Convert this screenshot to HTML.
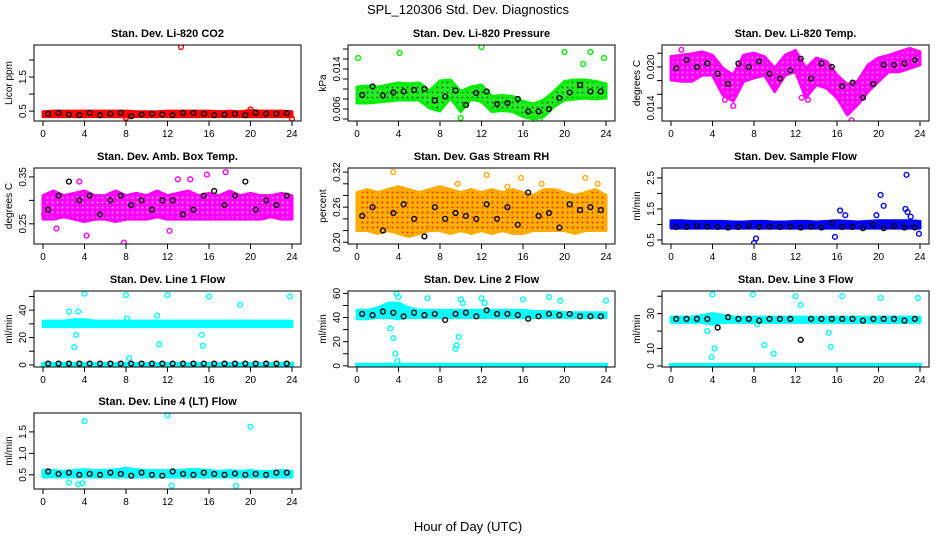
<!DOCTYPE html>
<html><head><meta charset="utf-8"><style>
body{margin:0;background:#fff}
svg{display:block;font-family:"Liberation Sans",sans-serif}
</style></head><body>
<svg id="c" width="936" height="540" viewBox="0 0 936 540">
<text x="468" y="14" text-anchor="middle" font-size="13">SPL_120306  Std. Dev. Diagnostics</text>
<text x="468" y="531" text-anchor="middle" font-size="13">Hour of Day (UTC)</text>
</svg>
<script>
const hours=[0,1,2,3,4,5,6,7,8,9,10,11,12,13,14,15,16,17,18,19,20,21,22,23,24];
const blackHours=[0.5,1.5,2.5,3.5,4.5,5.5,6.5,7.5,8.5,9.5,10.5,11.5,12.5,13.5,14.5,15.5,16.5,17.5,18.5,19.5,20.5,21.5,22.5,23.5];
// CO2
const co2Lo=[0.34,0.34,0.34,0.34,0.34,0.34,0.34,0.34,0.33,0.34,0.34,0.34,0.34,0.34,0.34,0.34,0.34,0.34,0.34,0.34,0.34,0.34,0.34,0.34,0.34];
const co2Hi=[0.48,0.5,0.5,0.5,0.5,0.5,0.5,0.5,0.5,0.48,0.48,0.48,0.5,0.5,0.5,0.5,0.5,0.48,0.5,0.48,0.52,0.5,0.5,0.5,0.48];
const co2Black=[0.42,0.45,0.4,0.38,0.45,0.38,0.42,0.45,0.35,0.4,0.42,0.4,0.38,0.45,0.45,0.42,0.38,0.4,0.42,0.38,0.45,0.42,0.42,0.44];
const co2OutX=[13.3,8.0,20.0,24.0];
const co2OutY=[2.38,0.3,0.55,0.28];
// Pressure
const prLo=[0.0072,0.0072,0.0074,0.0076,0.0078,0.0078,0.0078,0.0062,0.0056,0.0082,0.0055,0.008,0.0075,0.0055,0.0057,0.0055,0.0045,0.004,0.0045,0.0065,0.0078,0.008,0.0082,0.008,0.0082];
const prHi=[0.0104,0.0106,0.0104,0.0108,0.0112,0.011,0.0112,0.0096,0.0116,0.0118,0.0095,0.0104,0.0108,0.0085,0.0087,0.0085,0.0075,0.007,0.0078,0.0095,0.0115,0.0118,0.0118,0.0115,0.011];
const prBlack=[0.0088,0.0105,0.0087,0.0093,0.0095,0.0098,0.01,0.0077,0.0085,0.0097,0.0068,0.0092,0.0095,0.007,0.0072,0.008,0.0055,0.0055,0.006,0.0082,0.0093,0.0108,0.0095,0.0095];
const prOutX=[0.1,4.1,12,20,22.5,23.8,10,17.6,21.8];
const prOutY=[0.0162,0.0172,0.0184,0.0174,0.0174,0.0162,0.0042,0.004,0.015];
// Li-820 Temp
const tLo=[0.0181,0.0179,0.0179,0.0188,0.0188,0.0159,0.015,0.0179,0.0184,0.0188,0.0164,0.0188,0.0193,0.0155,0.0174,0.0169,0.0155,0.013,0.0145,0.0164,0.0179,0.0193,0.0193,0.0198,0.0203];
const tHi=[0.0215,0.0217,0.0219,0.0222,0.0217,0.0198,0.0188,0.0217,0.022,0.0215,0.0198,0.0217,0.0224,0.0198,0.0213,0.0208,0.0188,0.0174,0.0179,0.0203,0.0213,0.0217,0.0222,0.0227,0.0222];
const tBlack=[0.0198,0.021,0.02,0.0205,0.019,0.0175,0.0205,0.02,0.0208,0.019,0.0183,0.0195,0.0212,0.0183,0.0205,0.02,0.0172,0.0177,0.0155,0.0175,0.0203,0.0203,0.0205,0.021];
const tOutX=[1,5.2,6,12.6,17.4,13.2];
const tOutY=[0.0225,0.0152,0.0143,0.0155,0.0122,0.0152];
// Amb box temp
const aLo=[0.26,0.26,0.265,0.26,0.255,0.26,0.26,0.255,0.26,0.26,0.26,0.265,0.26,0.26,0.26,0.26,0.26,0.26,0.26,0.26,0.26,0.26,0.265,0.26,0.26];
const aHi=[0.31,0.32,0.31,0.315,0.32,0.31,0.31,0.32,0.31,0.315,0.31,0.32,0.31,0.315,0.32,0.31,0.315,0.31,0.32,0.31,0.315,0.31,0.31,0.315,0.31];
const aBlack=[0.28,0.31,0.34,0.3,0.31,0.27,0.3,0.31,0.29,0.3,0.28,0.3,0.3,0.27,0.28,0.31,0.32,0.29,0.31,0.34,0.28,0.3,0.29,0.31];
const aOutX=[4.2,7.8,12.2,1.3,17.6,15.8,0.1,3.5,13,14.2];
const aOutY=[0.225,0.21,0.235,0.24,0.36,0.355,0.27,0.34,0.345,0.345];
// Gas stream RH
const rLo=[0.22,0.22,0.215,0.22,0.215,0.21,0.215,0.22,0.22,0.215,0.22,0.215,0.22,0.215,0.22,0.215,0.215,0.22,0.22,0.22,0.22,0.215,0.22,0.22,0.22];
const rHi=[0.285,0.29,0.285,0.29,0.295,0.29,0.285,0.29,0.295,0.29,0.285,0.29,0.285,0.29,0.285,0.29,0.285,0.28,0.29,0.29,0.285,0.28,0.285,0.29,0.28];
const rBlack=[0.245,0.26,0.22,0.25,0.265,0.24,0.21,0.26,0.24,0.25,0.245,0.24,0.265,0.24,0.26,0.23,0.285,0.245,0.25,0.225,0.265,0.255,0.26,0.255];
const rOutX=[3.5,23.2,9.7,12.5,15.8,17.8,22,14.5];
const rOutY=[0.32,0.3,0.3,0.315,0.31,0.3,0.31,0.295];
// Sample flow
const sLo=[0.88,0.88,0.88,0.88,0.88,0.88,0.88,0.88,0.88,0.88,0.88,0.88,0.88,0.88,0.88,0.88,0.88,0.88,0.88,0.88,0.88,0.88,0.88,0.88,0.88];
const sHi=[1.12,1.12,1.1,1.1,1.1,1.1,1.08,1.08,1.1,1.1,1.08,1.08,1.1,1.1,1.08,1.1,1.12,1.1,1.08,1.1,1.12,1.12,1.12,1.12,1.1];
const sBlack=[0.92,0.92,0.95,0.93,0.92,0.9,0.92,0.95,0.92,0.93,0.92,0.93,0.9,0.93,0.9,1.05,0.92,0.92,0.88,1.0,0.88,0.95,0.9,0.9];
const sOutX=[16.3,16.8,15.8,8,8.2,20.2,20.5,22.7,22.6,22.8,23.1,23.9,19.8];
const sOutY=[1.45,1.3,0.6,0.4,0.55,1.95,1.6,2.6,1.5,1.4,1.25,0.7,1.3];
// Line 1
const l1Lo=[28,28,28,28,28,28,28,28,28,28,28,28,28,28,28,28,28,28,28,28,28,28,28,28,28];
const l1Hi=[32,32,32,33,33,32,32,32,32,32,32,32,32,32,32,32,32,32,32,32,32,32,32,32,32];
const l1Black=[1,1,1,1,1,1,1,1,1,1,1,1,1,1,1,1,1,1,1,1,1,1,1,1];
const l1OutX=[4,8,12,16,19,23.8,2.5,3.2,3,3.4,11,11.2,15.3,15.4,8.3,8.1];
const l1OutY=[52,51,51,50,44,50,39,22,13,39,36,15,22,14,5,34];
// Line 2
const l2Lo=[39,39,40,40,39,40,40,40,40,40,40,40,40,40,40,40,40,40,40,40,40,40,40,40,40];
const l2Hi=[46,46,48,52,52,48,46,46,46,46,46,46,46,46,46,46,46,45,45,45,44,44,44,44,44];
const l2Black=[43,42,45,44,41,44,42,43,38,43,44,41,46,43,43,42,39,41,43,42,43,41,41,41];
const l2OutX=[3.8,4,3.2,3.5,3.7,6.8,9.5,9.6,9.8,10,10.2,12,12.3,16,18.5,19.6,24,3.9];
const l2OutY=[60,57,31,23,10,56,14,17,24,55,52,56,52,55,57,54,54,4];
// Line 3
const l3Lo=[25,25,25,25,24,25,25,25,25,25,25,25,25,25,25,25,25,25,25,25,25,25,25,25,25];
const l3Hi=[28,28,28,29,30,29,28,28,28,28,28,28,28,28,28,28,28,28,28,28,28,28,28,28,28];
const l3Black=[27,27,27,27,22,28,27,27,26,27,27,27,15,27,27,27,27,27,26,27,27,27,26,27];
const l3OutX=[4,4.2,3.9,7.9,8.3,9,12,12.5,9.9,16.5,20.2,23.8,3.5,15.2,15.4];
const l3OutY=[41,10,5,41,24,12,40,35,7,40,39,39,20,19,11];
// Line 4
const l4Lo=[0.45,0.45,0.45,0.45,0.45,0.45,0.45,0.45,0.45,0.45,0.45,0.45,0.45,0.45,0.45,0.45,0.45,0.45,0.45,0.45,0.45,0.45,0.45,0.45,0.45];
const l4Hi=[0.6,0.6,0.58,0.6,0.62,0.6,0.6,0.62,0.65,0.62,0.6,0.6,0.6,0.6,0.62,0.62,0.6,0.58,0.6,0.58,0.6,0.58,0.58,0.6,0.58];
const l4Black=[0.58,0.52,0.55,0.5,0.52,0.5,0.55,0.52,0.48,0.55,0.5,0.48,0.58,0.52,0.5,0.55,0.52,0.5,0.53,0.5,0.52,0.5,0.55,0.55];
const l4OutX=[4,12,20,3.8,12.4,18.6,2.5,3.4];
const l4OutY=[1.75,1.88,1.62,0.3,0.25,0.24,0.32,0.28];
const xTicks=[0,4,8,12,16,20,24];

const panels=[
 {name:"co2",title:"Stan. Dev. Li-820 CO2",yl:"Licor ppm",col:0,row:0,ymin:0.21,ymax:2.44,yt:[0.5,1,1.5,2],ylab:["0.5","","1.5",""],color:"#ff0000",lo:co2Lo,hi:co2Hi,bk:co2Black,ox:co2OutX,oy:co2OutY},
 {name:"pressure",title:"Stan. Dev. Li-820 Pressure",yl:"kPa",col:1,row:0,ymin:0.0036,ymax:0.0188,yt:[0.004,0.006,0.008,0.010,0.012,0.014,0.016,0.018],ylab:["","0.006","","","","0.014","",""],color:"#00ee00",lo:prLo,hi:prHi,bk:prBlack,ox:prOutX,oy:prOutY},
 {name:"li820-temp",title:"Stan. Dev. Li-820 Temp.",yl:"degrees C",col:2,row:0,ymin:0.0121,ymax:0.0232,yt:[0.014,0.016,0.018,0.020,0.022],ylab:["0.014","","","0.020",""],color:"#ff00ff",lo:tLo,hi:tHi,bk:tBlack,ox:tOutX,oy:tOutY},
 {name:"amb-box-temp",title:"Stan. Dev. Amb. Box Temp.",yl:"degrees C",col:0,row:1,ymin:0.207,ymax:0.369,yt:[0.25,0.30,0.35],ylab:["0.25","","0.35"],color:"#ff00ff",lo:aLo,hi:aHi,bk:aBlack,ox:aOutX,oy:aOutY},
 {name:"gas-stream-rh",title:"Stan. Dev. Gas Stream RH",yl:"percent",col:1,row:1,ymin:0.197,ymax:0.327,yt:[0.20,0.22,0.24,0.26,0.28,0.30,0.32],ylab:["0.20","","","0.26","","","0.32"],color:"#ffaa00",lo:rLo,hi:rHi,bk:rBlack,ox:rOutX,oy:rOutY},
 {name:"sample-flow",title:"Stan. Dev. Sample Flow",yl:"ml/min",col:2,row:1,ymin:0.37,ymax:2.82,yt:[0.5,1,1.5,2,2.5],ylab:["0.5","","1.5","","2.5"],color:"#0000ff",lo:sLo,hi:sHi,bk:sBlack,ox:sOutX,oy:sOutY},
 {name:"line1-flow",title:"Stan. Dev. Line 1 Flow",yl:"ml/min",col:0,row:2,ymin:-1.5,ymax:54,yt:[0,10,20,30,40,50],ylab:["0","","20","","40",""],color:"#00ffff",lo:l1Lo,hi:l1Hi,bk:l1Black,ox:l1OutX,oy:l1OutY,zero:true},
 {name:"line2-flow",title:"Stan. Dev. Line 2 Flow",yl:"ml/min",col:1,row:2,ymin:-1,ymax:62,yt:[0,10,20,30,40,50,60],ylab:["0","","20","","40","","60"],color:"#00ffff",lo:l2Lo,hi:l2Hi,bk:l2Black,ox:l2OutX,oy:l2OutY,zero:true},
 {name:"line3-flow",title:"Stan. Dev. Line 3 Flow",yl:"ml/min",col:2,row:2,ymin:-0.6,ymax:43,yt:[0,10,20,30,40],ylab:["0","10","","30",""],color:"#00ffff",lo:l3Lo,hi:l3Hi,bk:l3Black,ox:l3OutX,oy:l3OutY,zero:true},
 {name:"line4-flow",title:"Stan. Dev. Line 4 (LT) Flow",yl:"ml/min",col:0,row:3,ymin:0.17,ymax:1.94,yt:[0.5,1,1.5],ylab:["0.5","1.0","1.5"],color:"#00ffff",lo:l4Lo,hi:l4Hi,bk:l4Black,ox:l4OutX,oy:l4OutY}
];
const NS="http://www.w3.org/2000/svg";
const svg=document.getElementById("c");
const colX=[34,348,662], rowY=[45,168,291,413], W=267, H=76;
function mk(tag,attrs,parent){const e=document.createElementNS(NS,tag);for(const k in attrs)e.setAttribute(k,attrs[k]);parent.appendChild(e);return e;}
const defs=mk("defs",{},svg);
function pattern(id,bg,fg){
 const p=mk("pattern",{id:id,width:5,height:5,patternUnits:"userSpaceOnUse"},defs);
 mk("rect",{width:5,height:5,fill:bg},p);
 mk("circle",{cx:2.5,cy:2.5,r:1,fill:fg},p);
 return "url(#"+id+")";
}
const texFill={
 "pressure":pattern("pp","#22ee22","#116611"),
 "li820-temp":pattern("pt","#ff00ff","#ff88ff"),
 "amb-box-temp":pattern("pa","#ff00ff","#ff99ff"),
 "gas-stream-rh":pattern("pr","#ffb000","#ee2200")
};
panels.forEach(p=>{
 const L=colX[p.col],T=rowY[p.row];
 const g=mk("g",{},svg);
 
 
 const sx=v=>L+9+v*(W-18)/24;
 const sy=v=>T+H-(v-p.ymin)/(p.ymax-p.ymin)*H;
 const t=mk("text",{x:L+W/2,y:T-8,"text-anchor":"middle","font-size":"11","font-weight":"bold"},g);
 t.textContent=p.title;
 
 
 const clip=mk("clipPath",{id:"cl"+p.name},g);
 mk("rect",{x:L,y:T,width:W,height:H},clip);
 const pg=mk("g",{"clip-path":"url(#cl"+p.name+")"},g);
 let pts=hours.map((h,i)=>sx(h)+","+sy(p.hi[i]));
 pts=pts.concat(hours.slice().reverse().map((h,j)=>sx(h)+","+sy(p.lo[hours.length-1-j])));
 const fill=texFill[p.name]||p.color;
 const band=mk("polygon",{points:pts.join(" "),fill:fill,stroke:p.color,"stroke-width":"3","stroke-linejoin":"round"},pg);
 
 
 if(p.zero){
  const z=mk("rect",{x:sx(0)-2,y:sy(0)-3,width:sx(24)-sx(0)+4,height:5,fill:p.color},pg);
  
  
 }
 p.ox.forEach((x,i)=>{
  const c=mk("circle",{cx:sx(x),cy:sy(p.oy[i]),r:2.4,fill:"none",stroke:p.color,"stroke-width":"1.4"},pg);
  
  
 });
 p.bk.forEach((v,i)=>{
  const c=mk("circle",{cx:sx(blackHours[i]),cy:sy(v),r:2.4,fill:"none",stroke:"#000","stroke-width":"1.4"},pg);
  
  
 });
 const box=mk("rect",{x:L,y:T,width:W,height:H,fill:"none",stroke:"#000","stroke-width":"1"},g);
 
 
 xTicks.forEach(v=>{
  mk("line",{x1:sx(v),x2:sx(v),y1:T+H,y2:T+H+5,stroke:"#000"},g);
  const l=mk("text",{x:sx(v),y:T+H+16,"text-anchor":"middle","font-size":"10"},g);
  l.textContent=v;
  
  
 });
 p.yt.forEach((v,i)=>{
  const y=sy(v);
  mk("line",{x1:L-5,x2:L,y1:y,y2:y,stroke:"#000"},g);
  if(p.ylab[i]){
   const l=mk("text",{x:L-8,y:y,"text-anchor":"middle","font-size":"10",transform:`rotate(-90 ${L-8} ${y})`},g);
   l.textContent=p.ylab[i];
   
   
  }
 });
 const yl=mk("text",{x:L-22,y:T+H/2,"text-anchor":"middle","font-size":"10",transform:`rotate(-90 ${L-22} ${T+H/2})`},g);
 yl.textContent=p.yl;
 
 
});
</script>
</body></html>
